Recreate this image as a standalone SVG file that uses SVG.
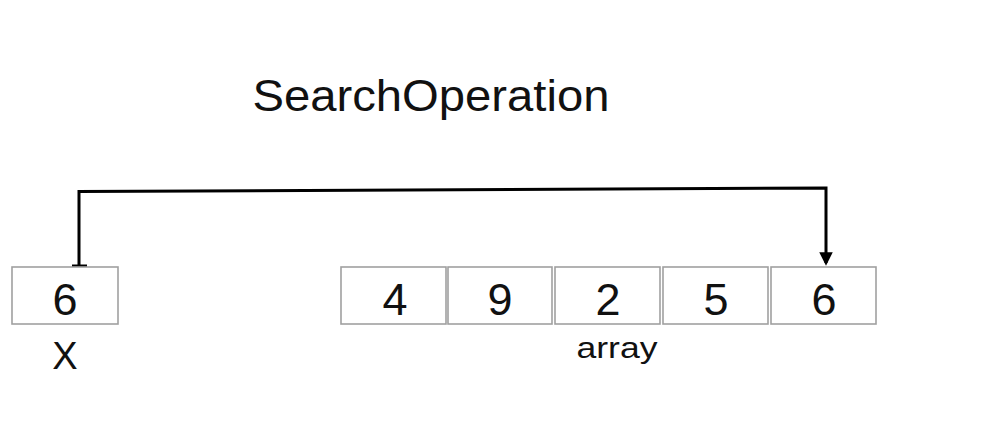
<svg xmlns="http://www.w3.org/2000/svg" width="1000" height="438" viewBox="0 0 1000 438">
<style>
.box{fill:#fff;stroke:#a0a0a0;stroke-width:1.6}
.num{font-family:"Liberation Sans",Arial,sans-serif;font-size:45px;fill:#111;text-anchor:middle}
.lbl{font-family:"Liberation Sans",Arial,sans-serif;fill:#111;text-anchor:middle}
.conn{fill:none;stroke:#000;stroke-width:3;stroke-linejoin:miter}
</style>
<defs>
<marker id="arr" viewBox="0 0 10 10" refX="8" refY="5" markerWidth="4.5" markerHeight="5" orient="auto" markerUnits="strokeWidth">
<path d="M0,0 L10,5 L0,10 Z" fill="#000"/>
</marker>
</defs>
<rect width="1000" height="438" fill="#fff"/>
<text id="title" class="lbl" x="431" y="111" font-size="44" textLength="357" lengthAdjust="spacingAndGlyphs">SearchOperation</text>
<g id="connectors">
<path class="conn" d="M79,266 L79,191.5 L826,188 L826,263" marker-end="url(#arr)"/>
<line x1="72" y1="266" x2="87" y2="266" stroke="#000" stroke-width="3"/>
</g>
<g id="x">
<rect class="box" x="12" y="267" width="106" height="57"/>
<text class="num" x="65" y="315">6</text>
<text class="lbl" x="65" y="369" font-size="38">X</text>
</g>
<g id="array">
<g id="cell0"><rect class="box" x="341" y="267" width="105" height="57"/><text class="num" x="395" y="315">4</text></g>
<g id="cell1"><rect class="box" x="448" y="267" width="104" height="57"/><text class="num" x="500" y="315">9</text></g>
<g id="cell2"><rect class="box" x="555" y="267" width="105" height="57"/><text class="num" x="608" y="315">2</text></g>
<g id="cell3"><rect class="box" x="663" y="267" width="105" height="57"/><text class="num" x="716" y="315">5</text></g>
<g id="cell4"><rect class="box" x="771" y="267" width="105" height="57"/><text class="num" x="824" y="315">6</text></g>
<text class="lbl" x="617" y="358" font-size="29" textLength="81" lengthAdjust="spacingAndGlyphs">array</text>
</g>
</svg>
